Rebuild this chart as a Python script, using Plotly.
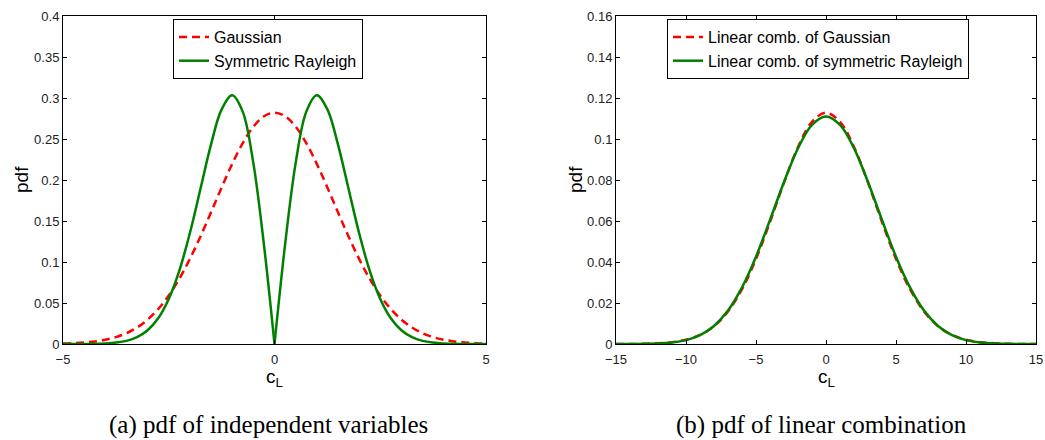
import plotly.graph_objects as go

# ---------------- data ----------------
XA = [-5.0, -4.75, -4.5, -4.25, -4.0, -3.75, -3.5, -3.25, -3.0, -2.75, -2.5, -2.25,
      -2.0, -1.75, -1.5, -1.25, -1.0, -0.75, -0.5, -0.25, 0.0, 0.25, 0.5, 0.75, 1.0,
      1.25, 1.5, 1.75, 2.0, 2.25, 2.5, 2.75, 3.0, 3.25, 3.5, 3.75, 4.0, 4.25, 4.5,
      4.75, 5.0]
GAUSS_A = [0.0005, 0.0010, 0.0018, 0.0031, 0.0052, 0.0084, 0.0132, 0.0201, 0.0297,
           0.0426, 0.0591, 0.0796, 0.1038, 0.1312, 0.1607, 0.1909, 0.2197, 0.2451,
           0.2650, 0.2777, 0.2821, 0.2777, 0.2650, 0.2451, 0.2197, 0.1909, 0.1607,
           0.1312, 0.1038, 0.0796, 0.0591, 0.0426, 0.0297, 0.0201, 0.0132, 0.0084,
           0.0052, 0.0031, 0.0018, 0.0010, 0.0005]
RAYL_A = [0.0000, 0.0000, 0.0001, 0.0002, 0.0007, 0.0017, 0.0038, 0.0083, 0.0167,
          0.0313, 0.0549, 0.0895, 0.1353, 0.1893, 0.2435, 0.2861, 0.3033, 0.2831,
          0.2206, 0.1212, 0.0000, 0.1212, 0.2206, 0.2831, 0.3033, 0.2861, 0.2435,
          0.1893, 0.1353, 0.0895, 0.0549, 0.0313, 0.0167, 0.0083, 0.0038, 0.0017,
          0.0007, 0.0002, 0.0001, 0.0000, 0.0000]

XB = [-15, -14, -13, -12, -11, -10, -9, -8, -7, -6, -5, -4, -3, -2, -1, 0,
      1, 2, 3, 4, 5, 6, 7, 8, 9, 10, 11, 12, 13, 14, 15]
GAUSS_B = [0.0000, 0.0000, 0.0001, 0.0004, 0.0009, 0.0021, 0.0044, 0.0087, 0.0159,
           0.0267, 0.0415, 0.0595, 0.0787, 0.0961, 0.1084, 0.1128, 0.1084, 0.0961,
           0.0787, 0.0595, 0.0415, 0.0267, 0.0159, 0.0087, 0.0044, 0.0021, 0.0009,
           0.0004, 0.0001, 0.0000, 0.0000]
RAYL_B = [0.0000, 0.0000, 0.0001, 0.0002, 0.0007, 0.0019, 0.0043, 0.0088, 0.0163,
          0.0276, 0.0426, 0.0605, 0.0790, 0.0955, 0.1069, 0.1110, 0.1069, 0.0955,
          0.0790, 0.0605, 0.0426, 0.0276, 0.0163, 0.0088, 0.0043, 0.0019, 0.0007,
          0.0002, 0.0001, 0.0000, 0.0000]

NAMES_A = ["Gaussian", "Symmetric Rayleigh"]
NAMES_B = ["Linear comb. of Gaussian", "Linear comb. of symmetric Rayleigh"]
CAPTIONS = ["(a) pdf of independent variables", "(b) pdf of linear combination"]
YLABEL = "pdf"
XLABEL = "c<sub>L</sub>"

# ---------------- styling ----------------
W, H = 1045, 440
RED = "rgb(255,0,0)"
GREEN = "rgb(0,128,0)"
SANS = "Liberation Sans, Arial, Helvetica, sans-serif"
SERIF = "Liberation Serif, Times New Roman, serif"
LW = 2.5
DASH = "8px,5px"

def px_x(p):
    return p / W

def px_y(p):
    return (H - p) / H

fig = go.Figure()

# left panel
fig.add_trace(go.Scatter(x=XA, y=GAUSS_A, mode="lines", name=NAMES_A[0],
                         line=dict(color=RED, width=LW, dash=DASH, shape="spline"),
                         xaxis="x", yaxis="y", legend="legend"))
i0 = XA.index(0.0)
fig.add_trace(go.Scatter(x=XA[:i0 + 1], y=RAYL_A[:i0 + 1], mode="lines", name=NAMES_A[1],
                         line=dict(color=GREEN, width=LW, shape="spline"),
                         showlegend=True, xaxis="x", yaxis="y", legend="legend"))
fig.add_trace(go.Scatter(x=XA[i0:], y=RAYL_A[i0:], mode="lines", name=NAMES_A[1],
                         line=dict(color=GREEN, width=LW, shape="spline"),
                         showlegend=False, xaxis="x", yaxis="y", legend="legend"))

# right panel
fig.add_trace(go.Scatter(x=XB, y=GAUSS_B, mode="lines", name=NAMES_B[0],
                         line=dict(color=RED, width=LW, dash=DASH, shape="spline"),
                         xaxis="x2", yaxis="y2", legend="legend2"))
fig.add_trace(go.Scatter(x=XB, y=RAYL_B, mode="lines", name=NAMES_B[1],
                         line=dict(color=GREEN, width=LW, shape="spline"),
                         xaxis="x2", yaxis="y2", legend="legend2"))

axis_common = dict(showline=True, linecolor="black", linewidth=1, mirror="ticks",
                   ticks="inside", ticklen=4, tickcolor="black", showgrid=False,
                   zeroline=False, automargin=False,
                   tickfont=dict(family=SANS, size=13, color="#222"))

ydom = [px_y(344), px_y(16)]
fig.update_layout(
    width=W, height=H,
    margin=dict(l=0, r=0, t=0, b=0, autoexpand=False),
    paper_bgcolor="white", plot_bgcolor="white",
    xaxis=dict(domain=[px_x(63), px_x(486)], range=[-5, 5], dtick=5, anchor="y",
               ticklabelstandoff=3, **axis_common),
    yaxis=dict(domain=ydom, range=[0, 0.4], dtick=0.05, anchor="x", **axis_common),
    xaxis2=dict(domain=[px_x(616), px_x(1036)], range=[-15, 15], dtick=5, anchor="y2",
                ticklabelstandoff=3, **axis_common),
    yaxis2=dict(domain=ydom, range=[0, 0.16], dtick=0.02, anchor="x2", **axis_common),
    legend=dict(x=px_x(173), y=px_y(19), xanchor="left", yanchor="top",
                bgcolor="white", bordercolor="black", borderwidth=1,
                font=dict(family=SANS, size=16, color="black"), tracegroupgap=0),
    legend2=dict(x=px_x(667), y=px_y(19), xanchor="left", yanchor="top",
                 bgcolor="white", bordercolor="black", borderwidth=1,
                 font=dict(family=SANS, size=16, color="black"), tracegroupgap=0),
    showlegend=True,
)

ann = []
for xc, cap in zip([268, 821], CAPTIONS):
    ann.append(dict(x=px_x(xc), y=px_y(425), xref="paper", yref="paper", text=cap,
                    showarrow=False, xanchor="center", yanchor="middle",
                    font=dict(family=SERIF, size=25, color="black")))
for xc in [274.5, 826]:
    ann.append(dict(x=px_x(xc), y=px_y(378), xref="paper", yref="paper", text=XLABEL,
                    showarrow=False, xanchor="center", yanchor="middle",
                    font=dict(family=SANS, size=19, color="black")))
for xc in [21, 575]:
    ann.append(dict(x=px_x(xc), y=px_y(180), xref="paper", yref="paper", text=YLABEL,
                    showarrow=False, xanchor="center", yanchor="middle", textangle=-90,
                    font=dict(family=SANS, size=19, color="black")))
fig.update_layout(annotations=ann)

fig.write_html("out.html")
